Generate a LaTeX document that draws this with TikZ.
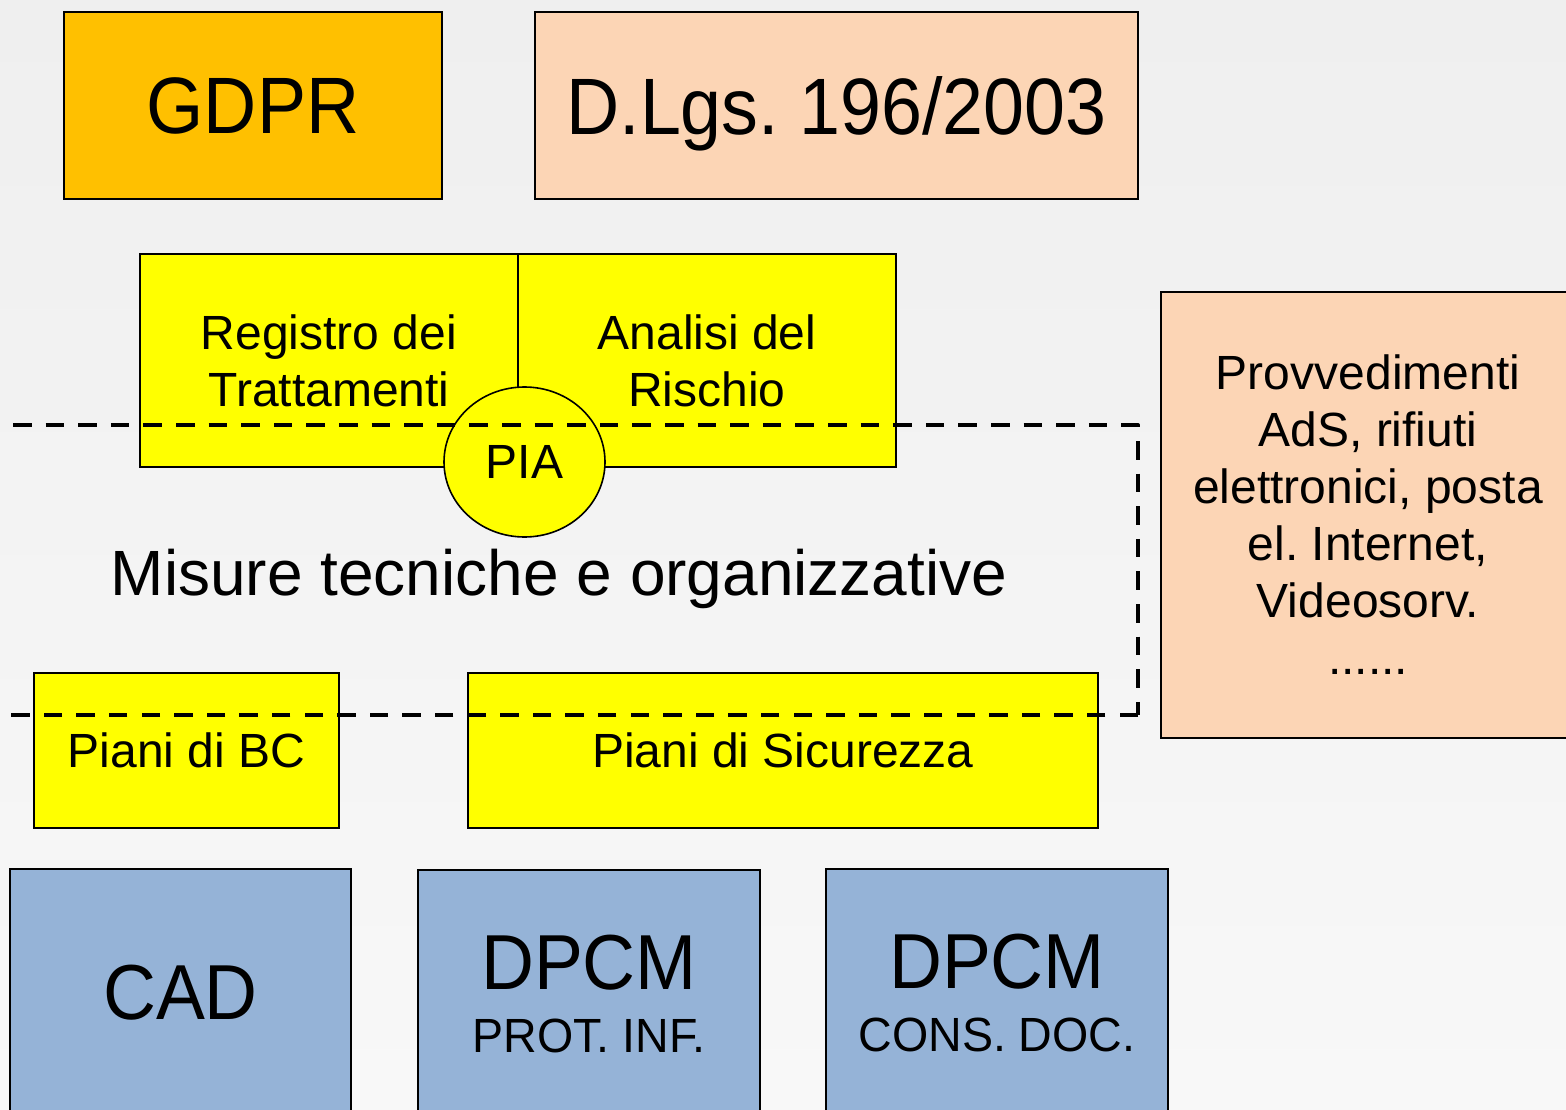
\documentclass[tikz,border=0pt]{standalone}
\usepackage{fontspec}
\setmainfont{Liberation Sans}
\usepackage{graphicx}
\usepackage{tikz}
\usetikzlibrary{shapes.geometric}
\frenchspacing

\definecolor{gdprorange}{HTML}{FFC000}
\definecolor{peach}{HTML}{FCD5B5}
\definecolor{boxyellow}{HTML}{FFFF00}
\definecolor{lawblue}{HTML}{95B3D7}
\definecolor{bgtop}{HTML}{EFEFEF}
\definecolor{bgbottom}{HTML}{F8F8F8}

\newcommand{\bigtxt}{\fontsize{80}{80}\selectfont}
\newcommand{\lawtxt}{\fontsize{78}{63}\selectfont}
\newcommand{\midtxt}{\fontsize{48}{57}\selectfont}
\newcommand{\subtxt}{\fontsize{48}{63}\selectfont}

\begin{document}
\begin{tikzpicture}[x=1pt, y=-1pt,
	box/.style={draw=black, line width=1.6pt, inner sep=0pt, align=center, text=black, font=\midtxt},
	boundary/.style={line width=4pt, dash pattern=on 18.5pt off 14.1pt, line join=round}]
	\useasboundingbox (0, 0) rectangle (1566, 1110);
	\clip (0, 0) rectangle (1566, 1110);
	\shade[top color=bgtop, bottom color=bgbottom] (0, 0) rectangle (1566, 1110);
	%%
	\node[box, fill=gdprorange, minimum width=378pt, minimum height=187pt, font=\bigtxt] (gdpr) at (253, 105.5) {\scalebox{0.92}[1]{GDPR}};
	\node[box, fill=peach, minimum width=603pt, minimum height=187pt, text depth=0pt, font=\bigtxt] (dlgs) at (836.5, 105.5) {\scalebox{0.92}[1]{D.Lgs. 196/2003}};
	%%
	\node[box, fill=boxyellow, minimum width=378pt, minimum height=213pt] (registro) at (329, 360.5) {Registro dei\\Trattamenti};
	\node[box, fill=boxyellow, minimum width=378pt, minimum height=213pt] (analisi) at (707, 360.5) {Analisi del\\Rischio};
	\node[box, fill=boxyellow, ellipse, minimum width=161pt, minimum height=150pt] (pia) at (524.5, 462) {PIA};
	%%
	\node[box, fill=peach, minimum width=414pt, minimum height=446pt] (provv) at (1368, 515) {Provvedimenti\\AdS, rifiuti\\elettronici, posta\\el. Internet,\\Videosorv.\\......};
	%%
	\node[box, fill=boxyellow, minimum width=305pt, minimum height=155pt] (bc) at (186.5, 750.5) {Piani di BC};
	\node[box, fill=boxyellow, minimum width=630pt, minimum height=155pt] (sicurezza) at (783, 750.5) {Piani di Sicurezza};
	%%
	\coordinate (dtl) at (13, 425);
	\coordinate (dtr) at (1138, 425);
	\coordinate (dbr) at (1138, 715);
	\coordinate (dbl) at (0, 715);
	\draw[boundary] (dtl) -- (dtr) -- (dbr);
	\draw[boundary] (dbr) -- (dbl);
	\node[anchor=base, inner sep=0pt, font=\fontsize{64}{64}\selectfont] (misure) at (559, 595) {Misure tecniche e organizzative};
	%%
	\node[box, fill=lawblue, minimum width=341pt, minimum height=248pt, font=\lawtxt] (cad) at (180.5, 993) {\scalebox{0.94}[1]{CAD}};
	\node[box, fill=lawblue, minimum width=342pt, minimum height=247pt, font=\lawtxt] (prot) at (589, 993.5) {\scalebox{0.94}[1]{DPCM}\\\subtxt\scalebox{0.97}[1]{PROT. INF.}};
	\node[box, fill=lawblue, minimum width=342pt, minimum height=248pt, font=\lawtxt] (cons) at (997, 993) {\scalebox{0.94}[1]{DPCM}\\\subtxt\scalebox{0.97}[1]{CONS. DOC.}};
\end{tikzpicture}
\end{document}
